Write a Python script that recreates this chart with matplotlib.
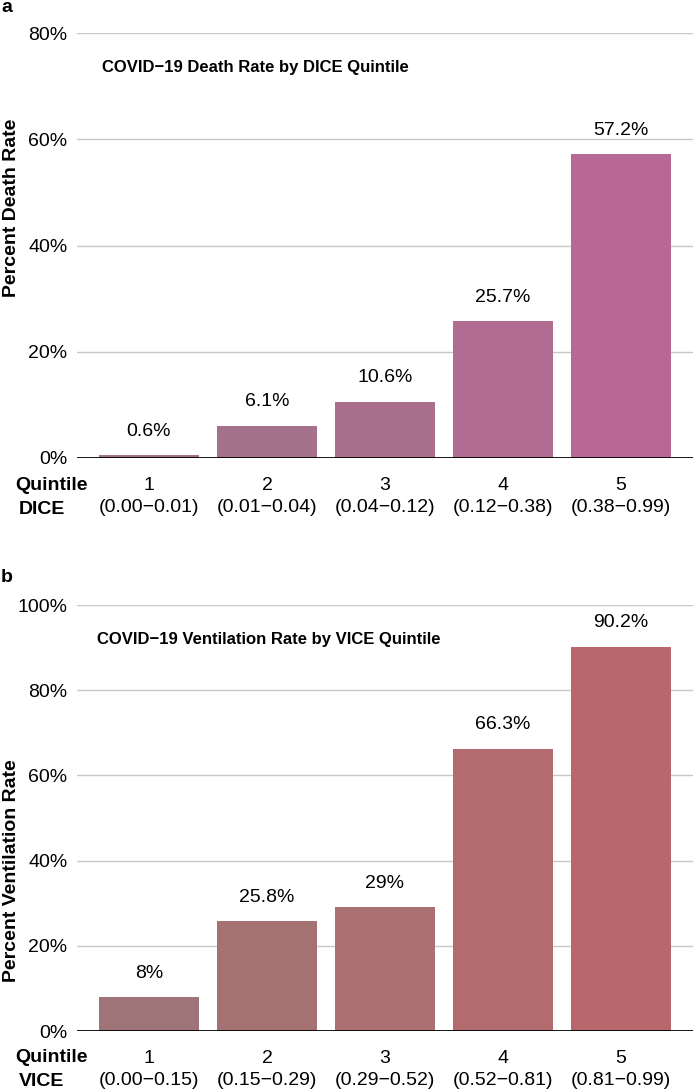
import matplotlib.pyplot as plt
import numpy as np

plt.rcParams['font.family'] = ['Liberation Sans', 'DejaVu Sans']

quintiles = ['1', '2', '3', '4', '5']
dice_ranges = ['(0.00−0.01)', '(0.01−0.04)', '(0.04−0.12)', '(0.12−0.38)', '(0.38−0.99)']
vice_ranges = ['(0.00−0.15)', '(0.15−0.29)', '(0.29−0.52)', '(0.52−0.81)', '(0.81−0.99)']
death_rate = [0.6, 6.1, 10.6, 25.7, 57.2]
death_labels = ['0.6%', '6.1%', '10.6%', '25.7%', '57.2%']
vent_rate = [8, 25.8, 29, 66.3, 90.2]
vent_labels = ['8%', '25.8%', '29%', '66.3%', '90.2%']

death_colors = ['#a27287', '#a5728c', '#aa6f8c', '#b26c91', '#b86894']
vent_colors = ['#9e7478', '#a57274', '#ab7073', '#b26c70', '#b8686c']

W, H = 693, 1090
fig = plt.figure(figsize=(W / 100, H / 100), dpi=100)


def px_box(left, top, right, bottom):
    return [left / W, 1 - bottom / H, (right - left) / W, (bottom - top) / H]


def panel(box, values, labels, colors, ranges, ymax, title, title_x, ylabel, ylabel_y,
          row_name, letter, letter_y):
    ax = fig.add_axes(px_box(*box))
    x = np.arange(len(values))
    ax.bar(x, values, width=0.84, color=colors, zorder=2)
    for xi, v, lab in zip(x, values, labels):
        ax.annotate(lab, (xi, v), xytext=(0, 11), textcoords='offset points',
                    ha='center', va='bottom', fontsize=14)
    ax.set_xlim(-0.61, 4.61)
    ax.set_ylim(0, ymax)
    ticks = np.arange(0, ymax + 1, 20)
    ax.set_yticks(ticks)
    ax.set_yticklabels([f'{t}%' for t in ticks], fontsize=14)
    ax.set_xticks(x)
    ax.set_xticklabels([f'{q}\n{r}' for q, r in zip(quintiles, ranges)],
                       fontsize=14, linespacing=1.32)
    ax.tick_params(length=0, pad=7)
    ax.tick_params(axis='x', pad=14)
    for s in ax.spines.values():
        s.set_visible(False)
    ax.grid(axis='y', color='#c8c8c8', lw=1, zorder=0)
    ax.axhline(0, color='black', lw=2, zorder=3)
    ax.text((title_x - box[0]) / (box[2] - box[0]), 0.918, title, transform=ax.transAxes,
            fontsize=12, fontweight='bold', ha='left', va='center')
    fig.text(12 / W, 1 - ylabel_y / H, ylabel, rotation=90, fontsize=14,
             fontweight='bold', ha='center', va='center')
    bottom = box[3]
    fig.text(15 / W, 1 - (bottom + 27) / H, 'Quintile', fontsize=14,
             fontweight='bold', ha='left', va='center')
    fig.text(19 / W, 1 - (bottom + 51) / H, row_name, fontsize=14,
             fontweight='bold', ha='left', va='center')
    fig.text(1 / W, 1 - letter_y / H, letter, fontsize=14, fontweight='bold',
             ha='left', va='center')
    return ax


panel((77, 33, 693, 458), death_rate, death_labels, death_colors, dice_ranges, 80,
      'COVID−19 Death Rate by DICE Quintile', 102, 'Percent Death Rate', 208, 'DICE', 'a', 7)
panel((77, 605, 693, 1031), vent_rate, vent_labels, vent_colors, vice_ranges, 100,
      'COVID−19 Ventilation Rate by VICE Quintile', 97, 'Percent Ventilation Rate', 871,
      'VICE', 'b', 577)

fig.savefig('out.png', dpi=100)
